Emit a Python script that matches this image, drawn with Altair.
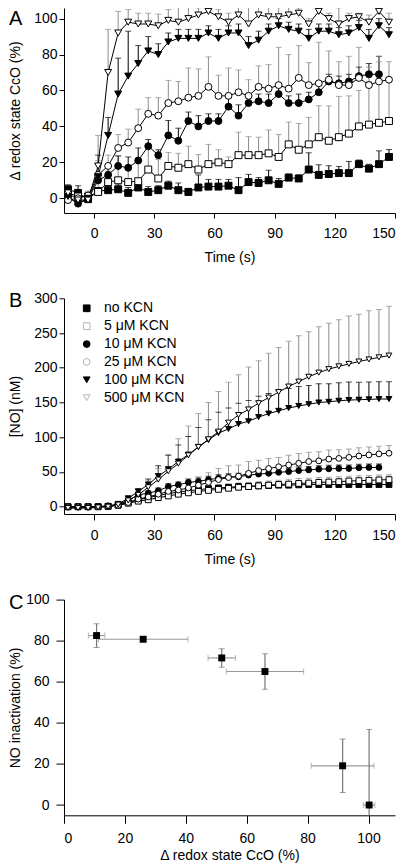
import altair as alt
import pandas as pd

F = "Liberation Sans"

times = [-13, -8, -3, 2, 7, 12, 17, 22, 27, 32, 37, 42, 47, 52, 57, 62, 67,
         72, 77, 82, 87, 92, 97, 102, 107, 112, 117, 122, 127, 132, 137, 142, 147]
series = ["no KCN", "5 μM KCN", "10 μM KCN", "25 μM KCN", "100 μM KCN", "500 μM KCN"]

# ---- Panel A: delta redox state CcO (%) ----
a_none = [5, 3, -0.5, 4, 4.5, 5, 3, 6, 3.5, 4.5, 7, 4.5, 3.5, 6, 6.5, 6.5, 7, 4.5, 9, 8.5,
          10, 8, 11.5, 11, 16, 13, 13.5, 14, 14, 19, 16.5, 19, 23]
a_5 = [3, 1, 1, 3.5, 9, 10, 9, 9.5, 16, 11, 18, 17, 19, 16, 19, 20, 19, 24, 24, 24, 25, 23,
       30, 27, 30, 34, 32, 34, 36, 40, 41, 42, 43]
a_10 = [0.5, -3, -0.5, 10, 13, 18, 17, 21, 29, 24, 35, 32, 43, 40, 43, 43, 51, 46, 53, 54,
        53, 58, 53, 53, 55, 59, 65, 64, 65, 68, 69, 69]
a_25 = [-1, 0, 1.5, 13, 18, 28, 31, 39, 47, 46, 53, 54, 56, 57, 62, 57, 57, 59, 57, 62, 61,
        63, 61, 67, 63, 64, 66, 63, 63, 67, 63, 65, 66]
a_100 = [1, -3, 0, 12, 35, 58, 68, 75, 82, 80, 87, 89, 89, 89, 92, 89, 92, 92, 85, 88, 93,
         96, 94, 93, 89, 93, 93, 91, 92, 95, 89, 96, 91]
a_500 = [3, -1, -1, 18, 70, 92, 98, 97, 97, 96, 99, 98, 100, 102, 104, 101, 98, 102, 97, 102,
         101, 101, 102, 103, 97, 104, 100, 97, 100, 101, 98, 104, 98]

a_none_sd = [2.5, 4, 3, 2, 3, 3, 3, 3, 3, 2.5, 2.5, 4, 2, 7, 4, 4, 3.5, 7, 4.3, 3, 5.6, 3, 2, 2,
             9.3, 5.6, 4.6, 3.7, 6.5, 2.3, 2.4, 7.4, 4.1]
a_5_sd = [3, 3, 3, 5, 6, 13.5, 7, 12.4, 13.5, 10.6, 7.5, 8, 10, 8.3, 11, 7, 4, 12.8, 10.3, 10,
          13, 12.5, 12.4, 14.6, 15, 17.5, 19.4, 22.7, 21, 20, 24, 34, 22]
a_10_sd = [2, 2, 2, 4, 5, 5.6, 6, 7, 3.7, 3, 8.3, 7, 5, 6, 4, 4, 5, 6, 5, 4, 5, 4, 4, 5, 4, 5,
           4, 4, 4, 5, 6, 10]
a_25_sd = [2, 2, 2, 8, 6, 7.5, 7.5, 10.6, 9, 10, 12.6, 11, 16.5, 15, 16.7, 11.5, 15.5, 12.4, 9,
           11.7, 13.4, 21, 19, 18, 12.5, 22.8, 16, 13, 16, 17, 10, 14, 10]
a_100_sd = [3, 3, 3, 12, 10, 20, 25, 10, 8, 6, 5, 5, 5, 5, 4, 5, 4, 5, 5, 5, 4, 4, 4, 4, 5, 4,
            4, 4, 4, 4, 5, 4, 4]
a_500_sd = [3, 4, 3, 17, 24, 12, 7, 6, 6, 6.5, 6, 11, 6.5, 4, 3, 4, 5, 6.5, 10, 7, 7, 7, 4.5, 3,
            3, 3, 3, 9, 3, 2, 4, 6, 5]

# ---- Panel B: [NO] (nM) ----
b_none = [0, 0, 0, 0, 0.5, 2.5, 6, 10, 13, 16, 19, 21, 23, 24.5, 26, 27, 28, 29, 29.5, 30,
          30.5, 31, 31, 31.5, 32, 32, 32, 32, 32, 32, 32, 32, 32]
b_5 = [0, 0, 0, 0, 0.5, 2, 5, 8, 10, 13, 15.5, 18, 20, 22, 23.5, 25, 26.5, 28, 29, 30, 31, 32,
       32.5, 33.5, 34, 35, 35.5, 36, 37, 37.5, 38, 38.5, 39]
b_10 = [0, 0, 0, 0, 1, 3, 9, 17, 19.5, 23, 29, 31.5, 35, 36.5, 39, 41, 42.5, 43, 45.5, 47, 48,
        49.5, 50.5, 52, 53, 54, 54.5, 55, 55, 56, 56.5, 56.5]
b_25 = [0, 0, 0, 0, 1, 2, 6, 11, 14, 18, 22, 24, 27, 31, 35, 39, 42, 44, 48, 52, 55, 57.5, 60,
        62.5, 65, 66, 68.5, 69.5, 71, 73, 74.5, 76, 77]
b_100 = [-1, -1, -1, 0, 1, 4, 12, 22, 32, 44, 54, 65, 75, 86, 96, 106, 112, 119, 123, 129, 134,
         138, 142, 145, 147.5, 150, 151, 152.5, 153.5, 154, 154.5, 155, 155]
b_500 = [-2, -2, -2, -1, 0, 3, 9, 17, 28, 39, 51, 62, 74, 86, 97, 108, 121, 132, 140, 149, 157,
         165, 173, 180, 187, 193, 198, 202, 205.5, 209, 212, 215, 217.5]

b_none_sd = [1, 1, 1, 1, 1, 1, 1, 2, 2, 2, 2, 2, 2, 2, 2, 2, 2, 2, 2, 2, 2, 2, 2, 2, 2, 2, 2,
             2, 2, 2, 2, 2, 2]
b_5_sd = [1, 1, 1, 1, 1, 1, 2, 2, 3, 3, 4, 4, 5, 5, 5, 6, 6, 6, 6, 6, 6, 6, 7, 7, 7, 7, 7, 7, 7,
          7, 7, 7, 7]
b_10_sd = [1, 1, 1, 1, 1, 1, 2, 3, 3, 4, 4, 4, 5, 5, 5, 5, 5, 5, 5, 5, 5, 5, 5, 5, 5, 5, 5, 5,
           5, 5, 5, 5]
b_25_sd = [1, 1, 1, 1, 1, 1, 2, 3, 4, 5, 6, 8, 10, 12, 14, 16, 17, 16, 17, 15, 14.5, 13.5, 14,
           14, 13.5, 13, 13, 12.5, 12, 12, 11.5, 11, 11]
b_100_sd = [1, 1, 1, 1, 1, 2, 3, 4, 8, 15, 20, 24, 26, 28, 29, 30, 30, 30, 30, 30, 29, 29, 28,
            28, 27, 27, 26, 26, 26, 25, 25, 25, 25]
b_500_sd = [1, 1, 1, 1, 1, 2, 3, 5, 10, 16, 24, 36, 42, 48, 53, 58, 58, 58, 61, 61, 64, 64, 65,
            66, 65, 66, 66, 67, 69, 68, 70, 69, 71]

# ---- Panel C ----
c_redox = [10.7, 26.0, 51.8, 66.0, 91.5, 100.2]
c_redox_sd = [2.7, 14.7, 4.5, 12.7, 10.3, 1.9]
c_inact = [82.5, 80.7, 71.6, 65.0, 19.1, 0.0]
c_inact_sd = [5.8, 0.0, 4.5, 8.6, 13.0, 36.8]


def build(vals_list, sd_list):
    rows = []
    for s, vals, sds in zip(series, vals_list, sd_list):
        for t, v, e in zip(times, vals, sds):
            rows.append({"series": s, "t": t, "v": v, "hi": v + e})
    return pd.DataFrame(rows)


dfA = build([a_none, a_5, a_10, a_25, a_100, a_500],
            [a_none_sd, a_5_sd, a_10_sd, a_25_sd, a_100_sd, a_500_sd])
dfB = build([b_none, b_5, b_10, b_25, b_100, b_500],
            [b_none_sd, b_5_sd, b_10_sd, b_25_sd, b_100_sd, b_500_sd])
dfC = pd.DataFrame({
    "cx": c_redox, "cy": c_inact,
    "xlo": [a - b for a, b in zip(c_redox, c_redox_sd)],
    "xhi": [a + b for a, b in zip(c_redox, c_redox_sd)],
    "ylo": [a - b for a, b in zip(c_inact, c_inact_sd)],
    "yhi": [a + b for a, b in zip(c_inact, c_inact_sd)],
})
dfLeg = pd.DataFrame({"series": series})

shapes = ["square", "square", "circle", "circle", "triangle-down", "triangle-down"]
fills = ["black", "white", "black", "white", "black", "white"]
errcols = ["black", "#8c8c8c", "black", "#8c8c8c", "black", "#8c8c8c"]
legstroke = ["black", "#b4b4b4", "black", "#b4b4b4", "black", "#b4b4b4"]
legsizes = [45, 45, 45, 45, 64, 64]

time_ticks = [0, 30, 60, 90, 120, 150]


def letter(ch, y):
    return alt.Chart(pd.DataFrame({"p": [ch]})).mark_text(
        font=F, fontSize=20, align="left", baseline="middle", color="black"
    ).encode(x=alt.value(-55), y=alt.value(y), text="p:N")


def time_panel(df, ydom, yticks, ytitle, xlp, xtp, ylp, ytp, psize, ch, chy):
    xs = alt.Scale(domain=[-15, 150], nice=False, zero=False)
    ys = alt.Scale(domain=ydom, nice=False, zero=False)
    xax = alt.Axis(values=time_ticks, title="Time (s)", tickSize=5 if ch == "A" else 6,
                   labelPadding=xlp, titlePadding=xtp)
    yax = alt.Axis(values=yticks, title=ytitle, tickSize=5, labelPadding=ylp, titlePadding=ytp)
    X = alt.X("t:Q", scale=xs, axis=xax)
    Y = alt.Y("v:Q", scale=ys, axis=yax)
    base = alt.Chart(df)
    col = alt.Color("series:N", scale=alt.Scale(domain=series, range=errcols), legend=None)
    rules = base.mark_rule(clip=True, strokeWidth=1).encode(x=X, y=Y, y2="hi:Q", color=col)
    caps = base.mark_tick(clip=True, orient="horizontal", size=6, thickness=1).encode(
        x=X, y=alt.Y("hi:Q", scale=ys, axis=yax), color=col)
    lines = base.mark_line(clip=True, color="black", strokeWidth=1).encode(
        x=X, y=Y, detail="series:N", order="t:Q")
    shp = alt.Shape("series:N", scale=alt.Scale(domain=series, range=shapes), legend=None)
    fil = alt.Fill("series:N", scale=alt.Scale(domain=series, range=fills), legend=None)
    pts = base.mark_point(clip=True, filled=True, opacity=1, stroke="black", strokeWidth=1,
                          size=psize).encode(x=X, y=Y, shape=shp, fill=fil)
    return alt.layer(rules, caps, lines, pts), shp, fil


mainA, _, _ = time_panel(dfA, [-8.2, 105.9], [0, 20, 40, 60, 80, 100], "Δ redox state CcO (%)",
                         8, 10, 2, 11, 48, "A", 11)
panelA = alt.layer(mainA, letter("A", 11)).properties(width=331, height=205)

mainB, shpB, filB = time_panel(dfB, [-10.5, 300], [0, 50, 100, 150, 200, 250, 300], "[NO] (nM)",
                               8, 10, 2, 11, 34, "B", 3)
legY = alt.Y("series:N", scale=alt.Scale(type="point", domain=series, range=[10, 99.4],
                                          padding=0), axis=None)
legSym = alt.Chart(dfLeg).mark_point(filled=True, opacity=1, strokeWidth=1).encode(
    x=alt.value(22.7), y=legY, shape=shpB, fill=filB,
    stroke=alt.Stroke("series:N", scale=alt.Scale(domain=series, range=legstroke), legend=None),
    size=alt.Size("series:N", scale=alt.Scale(domain=series, range=legsizes), legend=None))
legTxt = alt.Chart(dfLeg).mark_text(font=F, fontSize=14, align="left", baseline="middle",
                                    color="black").encode(
    x=alt.value(40), y=legY, text="series:N")
panelB = alt.layer(mainB, alt.layer(legSym, legTxt), letter("B", 3)).resolve_scale(
    y="independent").properties(width=331, height=215.7)

# Panel C
xsC = alt.Scale(domain=[0, 108.7], nice=False, zero=False)
ysC = alt.Scale(domain=[-5, 100], nice=False, zero=False)
xaxC = alt.Axis(values=[0, 20, 40, 60, 80, 100], title="Δ redox state CcO (%)", tickSize=8,
                labelPadding=8, titlePadding=3)
yaxC = alt.Axis(values=[0, 20, 40, 60, 80, 100], title="NO inactivation (%)", tickSize=8,
                labelPadding=7, titlePadding=3)
baseC = alt.Chart(dfC)
xr = baseC.mark_rule(color="#999999", strokeWidth=1.2).encode(
    x=alt.X("xlo:Q", scale=xsC, axis=xaxC), x2="xhi:Q", y=alt.Y("cy:Q", scale=ysC, axis=yaxC))
xc1 = baseC.mark_tick(orient="vertical", size=6, thickness=1, color="#999999").encode(
    x=alt.X("xlo:Q", scale=xsC, axis=xaxC), y=alt.Y("cy:Q", scale=ysC, axis=yaxC))
xc2 = baseC.mark_tick(orient="vertical", size=6, thickness=1, color="#999999").encode(
    x=alt.X("xhi:Q", scale=xsC, axis=xaxC), y=alt.Y("cy:Q", scale=ysC, axis=yaxC))
yr = baseC.mark_rule(color="#777777", strokeWidth=1.2, clip=True).encode(
    x=alt.X("cx:Q", scale=xsC, axis=xaxC), y=alt.Y("ylo:Q", scale=ysC, axis=yaxC), y2="yhi:Q")
yc1 = baseC.mark_tick(orient="horizontal", size=6, thickness=1, color="#777777", clip=True).encode(
    x=alt.X("cx:Q", scale=xsC, axis=xaxC), y=alt.Y("ylo:Q", scale=ysC, axis=yaxC))
yc2 = baseC.mark_tick(orient="horizontal", size=6, thickness=1, color="#777777", clip=True).encode(
    x=alt.X("cx:Q", scale=xsC, axis=xaxC), y=alt.Y("yhi:Q", scale=ysC, axis=yaxC))
ptC = baseC.mark_point(shape="square", filled=True, color="black", opacity=1, size=48).encode(
    x=alt.X("cx:Q", scale=xsC, axis=xaxC), y=alt.Y("cy:Q", scale=ysC, axis=yaxC))
panelC = alt.layer(xr, xc1, xc2, yr, yc1, yc2, ptC, letter("C", 3)).properties(
    width=331, height=215.7)

ind = dict(shape="independent", fill="independent", stroke="independent",
           color="independent", size="independent")
chart = alt.vconcat(panelA, panelB, panelC, spacing=85.3, bounds="flush").resolve_scale(
    **ind).configure(
    font=F, padding={"left": 0, "top": 0, "right": 2, "bottom": 2}
).configure_view(stroke=None).configure_axis(
    grid=False, domainColor="black", tickColor="black", labelColor="black", titleColor="black",
    labelFontSize=14, titleFontSize=14, titleFontWeight="normal", labelFont=F, titleFont=F,
    domainWidth=1, tickWidth=1)

chart.save("out.html", embed_options={"renderer": "svg", "actions": False})
